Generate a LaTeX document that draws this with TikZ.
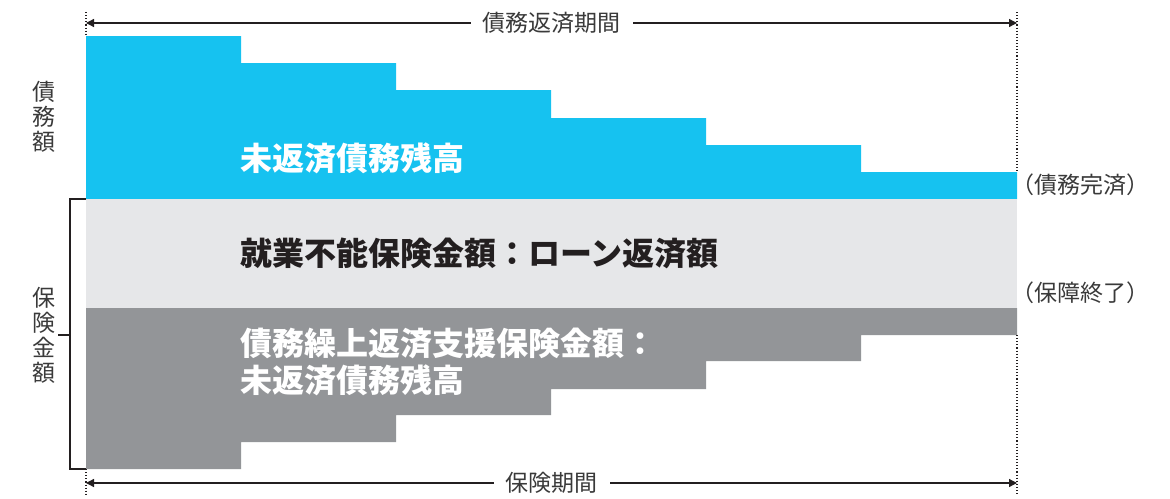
\documentclass[tikz,border=0pt]{standalone}
\usepackage{fontspec}
\setmainfont{Noto Sans CJK JP}
\usetikzlibrary{arrows.meta}
\definecolor{debtblue}{HTML}{16C2F0}
\definecolor{lightgr}{HTML}{E6E7E9}
\definecolor{darkgr}{HTML}{939598}
\definecolor{ink}{HTML}{3A3A3A}
\definecolor{boldink}{HTML}{231F20}
\begin{document}
\begin{tikzpicture}[x=1pt,y=-1pt,
  small/.style={font=\fontsize{23}{25}\selectfont, text=ink, inner sep=0pt},
  big/.style={font=\fontsize{32}{37}\selectfont\bfseries, inner sep=0pt, anchor=west, align=left},
  dimline/.style={draw=boldink, line width=1.3pt, {Triangle[length=8pt,width=8pt]}-{Triangle[length=8pt,width=8pt]}},
  guide/.style={draw=boldink, line width=1.1pt, dotted},
  brace/.style={draw=boldink, line width=1.2pt}]
\useasboundingbox (0,0) rectangle (1170,498);
% areas
\fill[debtblue] (86,199) -- (86,36) -- (241,36) -- (241,63) -- (396,63) -- (396,90) -- (551,90) -- (551,118) -- (706,118) -- (706,145) -- (861,145) -- (861,172) -- (1017,172) -- (1017,199) -- cycle;
\fill[lightgr] (86,199) rectangle (1017,308);
\fill[darkgr] (86,308) -- (1017,308) -- (1017,335) -- (861,335) -- (861,361) -- (706,361) -- (706,389) -- (551,389) -- (551,415) -- (396,415) -- (396,442) -- (241,442) -- (241,469) -- (86,469) -- cycle;
% guide coordinates
\coordinate (tlA) at (86,12);
\coordinate (tlB) at (86,36);
\coordinate (trA) at (1017,12);
\coordinate (trB) at (1017,172);
\coordinate (blA) at (86,469);
\coordinate (blB) at (86,494);
\coordinate (brA) at (1017,335);
\coordinate (brB) at (1017,494);
\draw[guide] (tlA) -- (tlB);
\draw[guide] (trA) -- (trB);
\draw[guide] (blA) -- (blB);
\draw[guide] (brA) -- (brB);
% dimension arrows
\coordinate (topL) at (86,23);
\coordinate (topR) at (1017,23);
\coordinate (botL) at (86,483);
\coordinate (botR) at (1017,483);
\draw[dimline] (topL) -- node[small, fill=white, inner xsep=12pt, inner ysep=2pt] (toplab) {債務返済期間} (topR);
\draw[dimline] (botL) -- node[small, fill=white, inner xsep=12pt, inner ysep=2pt] (botlab) {保険期間} (botR);
% bracket
\coordinate (brT) at (86,199);
\coordinate (brTc) at (70,199);
\coordinate (brBc) at (70,469);
\coordinate (brBo) at (86,469);
\coordinate (brM) at (70,335);
\coordinate (brMt) at (58,335);
\draw[brace] (brT) -- (brTc) -- (brBc) -- (brBo);
\draw[brace] (brM) -- (brMt);
% left labels
\node[small, align=center] (debtlab) at (44,117) {債\\務\\額};
\node[small, align=center] (inslab) at (44,335) {保\\険\\金\\額};
% right labels
\node[small, anchor=west] (donelab) at (1011,185) {（債務完済）};
\node[small, anchor=west] (endlab) at (1011,293) {（保障終了）};
% inner labels
\node[big, text=white] (remain) at (240,158) {未返済債務残高};
\node[big, text=boldink] (loan) at (240,253) {就業不能保険金額：ローン返済額};
\node[big, text=white] (prepay) at (240,362) {債務繰上返済支援保険金額：\\未返済債務残高};
\end{tikzpicture}
\end{document}
